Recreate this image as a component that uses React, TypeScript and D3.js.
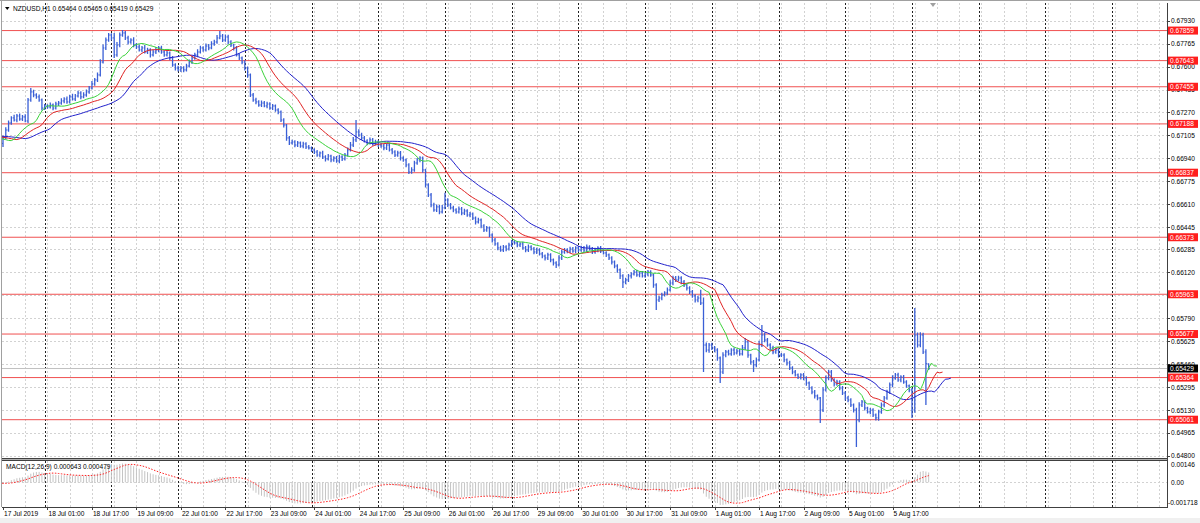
import React from 'react';
import * as d3 from 'd3';

// prices in points (1e-5), hourly bars, 17 Jul 2019 09:00 .. 6 Aug 2019 06:00
// a few bars before the window only warm up the indicators (they are clipped)
const PRE_CLOSE = [67100, 67096, 67090, 67084, 67076, 67070, 67062, 67058, 67052, 67048];
const PRE_HI = [12, 15, 10, 18, 14, 12, 16, 10, 14, 12];
const PRE_LO = [14, 10, 16, 12, 15, 18, 10, 14, 12, 16];

const CLOSE = [
  // 17 Jul
  67087, 67144, 67195, 67231, 67216, 67245, 67223, 67238, 67209, 67360, 67418, 67396, 67382, 67360, 67302, 67317,
  // 18 Jul
  67310, 67324, 67302, 67331, 67338, 67353, 67367, 67346, 67382, 67367, 67389, 67410, 67382, 67396, 67418, 67446, 67475, 67504, 67540, 67633, 67734, 67791, 67827, 67806,
  // 19 Jul
  67684, 67755, 67827, 67842, 67806, 67777, 67791, 67755, 67741, 67720, 67734, 67705, 67720, 67684, 67705, 67720, 67734, 67705, 67684, 67698, 67662, 67612, 67590, 67576,
  // 22 Jul
  67590, 67576, 67604, 67633, 67662, 67684, 67705, 67734, 67720, 67748, 67734, 67763, 67777, 67806, 67820, 67791, 67813, 67777, 67755, 67734, 67684, 67662, 67633, 67590,
  // 23 Jul
  67540, 67396, 67360, 67346, 67324, 67338, 67317, 67331, 67302, 67317, 67288, 67274, 67216, 67180, 67087, 67051, 67058, 67036, 67051, 67029, 67044, 67022, 67015, 67001,
  // 24 Jul
  66986, 66964, 66979, 66950, 66936, 66957, 66929, 66943, 66921, 66950, 66936, 66964, 67001, 67036, 67073, 67130, 67108, 67087, 67065, 67051, 67073, 67044, 67058, 67036,
  // 25 Jul
  67029, 67015, 67036, 67001, 66986, 66964, 66979, 66943, 66929, 66893, 66842, 66857, 66907, 66929, 66943, 66857, 66749, 66677, 66605, 66569, 66591, 66555, 66584, 66641,
  // 26 Jul
  66605, 66584, 66569, 66555, 66576, 66547, 66562, 66533, 66540, 66511, 66483, 66497, 66454, 66425, 66440, 66389, 66353, 66325, 66296, 66281, 66303, 66289, 66317, 66339,
  // 29 Jul
  66332, 66317, 66325, 66296, 66281, 66303, 66289, 66267, 66281, 66253, 66238, 66224, 66246, 66210, 66188, 66174, 66224, 66267, 66281, 66274, 66289, 66274, 66296, 66281,
  // 30 Jul
  66296, 66281, 66303, 66289, 66267, 66281, 66296, 66274, 66260, 66246, 66224, 66195, 66166, 66138, 66095, 66051, 66066, 66095, 66109, 66123, 66102, 66116, 66095, 66109,
  // 31 Jul
  66123, 66102, 66030, 65922, 65936, 65958, 65972, 65994, 66044, 66080, 66066, 66080, 66051, 66030, 66008, 65980, 65951, 65922, 65936, 65900, 65598, 65562, 65598, 65577,
  // 1 Aug
  65562, 65505, 65404, 65526, 65548, 65534, 65562, 65541, 65555, 65534, 65577, 65620, 65526, 65476, 65455, 65491, 65598, 65670, 65634, 65598, 65577, 65548, 65562, 65526,
  // 2 Aug
  65526, 65491, 65469, 65433, 65404, 65383, 65368, 65383, 65361, 65325, 65289, 65260, 65232, 65217, 65131, 65275, 65361, 65404, 65347, 65318, 65332, 65289, 65253, 65217,
  // 5-6 Aug
  65203, 65167, 65131, 65059, 65167, 65189, 65145, 65117, 65131, 65095, 65074, 65117, 65167, 65217, 65260, 65311, 65361, 65383, 65347, 65368, 65332, 65304, 65275, 65131,
  65670, 65598, 65670, 65548, 65464, 65429,
];

// wick above max(open, close) and below min(open, close), points
const WICK_HI = [
  15, 20, 18, 12, 22, 15, 18, 14, 20, 15, 28, 16, 12, 18, 10, 14,
  12, 18, 10, 16, 14, 20, 12, 18, 15, 22, 14, 16, 12, 20, 18, 15, 22, 14, 18, 20, 25, 18, 15, 12,
  36, 22, 18, 21, 14, 16, 12, 20, 15, 18, 14, 22, 16, 12, 18, 20, 14, 16, 12, 18, 10, 14, 12, 16,
  14, 12, 16, 18, 14, 15, 20, 16, 12, 18, 14, 20, 16, 22, 36, 14, 18, 16, 12, 10, 14, 12, 10, 12,
  10, 10, 14, 16, 12, 18, 14, 16, 12, 14, 10, 12, 10, 12, 8, 14, 16, 12, 14, 10, 16, 12, 14, 10,
  12, 14, 10, 16, 12, 14, 10, 12, 14, 16, 12, 14, 18, 22, 20, 86, 20, 16, 14, 12, 18, 14, 16, 12,
  14, 16, 12, 18, 14, 12, 16, 14, 12, 10, 12, 20, 16, 14, 12, 10, 8, 12, 14, 16, 18, 14, 20, 51,
  12, 14, 16, 12, 18, 14, 16, 12, 14, 10, 12, 16, 10, 12, 14, 10, 12, 14, 12, 16, 14, 12, 16, 14,
  12, 14, 12, 16, 14, 18, 12, 14, 16, 12, 14, 10, 16, 12, 10, 12, 20, 18, 14, 12, 16, 14, 12, 14,
  16, 14, 18, 12, 14, 16, 12, 14, 10, 12, 10, 12, 10, 12, 10, 12, 16, 14, 12, 14, 16, 12, 14, 12,
  14, 12, 10, 12, 14, 16, 12, 18, 20, 16, 14, 16, 12, 14, 10, 12, 14, 12, 16, 60, 40, 18, 14, 16,
  14, 12, 10, 20, 14, 16, 12, 18, 14, 16, 22, 29, 12, 10, 14, 18, 30, 72, 16, 14, 12, 16, 14, 12,
  14, 12, 10, 16, 12, 14, 10, 12, 14, 12, 10, 12, 14, 10, 8, 20, 18, 16, 14, 12, 16, 12, 14, 12,
  14, 12, 10, 16, 20, 14, 12, 10, 14, 12, 10, 16, 18, 14, 16, 18, 20, 14, 16, 12, 14, 12, 10, 14,
  194, 18, 20, 16, 20, 1,
];
const WICK_LO = [
  26, 10, 12, 14, 10, 16, 12, 15, 10, 14, 12, 16, 14, 12, 18, 14,
  14, 12, 16, 10, 14, 12, 16, 14, 12, 10, 14, 12, 16, 10, 12, 14, 10, 12, 14, 12, 10, 14, 12, 16,
  22, 14, 16, 12, 14, 18, 12, 16, 14, 12, 16, 10, 14, 18, 12, 14, 16, 12, 14, 12, 16, 14, 18, 12,
  14, 16, 12, 10, 14, 12, 16, 10, 14, 12, 16, 10, 14, 12, 10, 14, 12, 16, 14, 18, 12, 14, 16, 18,
  20, 14, 12, 16, 12, 14, 10, 16, 12, 14, 12, 16, 14, 18, 20, 14, 12, 16, 14, 12, 16, 14, 12, 16,
  14, 12, 16, 14, 18, 12, 16, 14, 12, 16, 14, 12, 10, 12, 14, 16, 12, 14, 10, 16, 12, 14, 12, 14,
  12, 16, 14, 12, 16, 14, 12, 18, 14, 16, 15, 12, 14, 12, 16, 20, 18, 14, 16, 12, 14, 16, 12, 10,
  14, 12, 16, 14, 12, 16, 14, 12, 16, 14, 18, 12, 16, 14, 12, 16, 18, 14, 16, 12, 14, 16, 12, 14,
  12, 16, 14, 12, 16, 14, 12, 16, 14, 12, 16, 18, 14, 16, 18, 22, 12, 14, 12, 16, 14, 12, 16, 14,
  12, 14, 16, 12, 14, 12, 16, 14, 12, 16, 14, 18, 16, 20, 22, 43, 16, 14, 18, 12, 14, 16, 12, 14,
  16, 14, 20, 72, 14, 16, 12, 14, 12, 16, 14, 12, 16, 14, 18, 16, 14, 18, 16, 14, 194, 16, 20, 14,
  16, 20, 79, 14, 16, 12, 14, 16, 12, 14, 12, 14, 20, 18, 51, 16, 12, 14, 16, 12, 14, 16, 12, 18,
  14, 16, 18, 14, 16, 12, 14, 18, 16, 20, 14, 16, 18, 16, 93, 14, 12, 16, 14, 18, 12, 16, 14, 18,
  16, 14, 18, 194, 16, 14, 18, 12, 16, 14, 18, 20, 14, 16, 12, 14, 16, 12, 14, 16, 12, 14, 16, 57,
  20, 18, 16, 14, 297, 10,
];

const TIME_LABELS = [
  '17 Jul 2019', '18 Jul 01:00', '18 Jul 17:00', '19 Jul 09:00', '22 Jul 01:00', '22 Jul 17:00',
  '23 Jul 09:00', '24 Jul 01:00', '24 Jul 17:00', '25 Jul 09:00', '26 Jul 01:00', '26 Jul 17:00',
  '29 Jul 09:00', '30 Jul 01:00', '30 Jul 17:00', '31 Jul 09:00', '1 Aug 01:00', '1 Aug 17:00',
  '2 Aug 09:00', '5 Aug 01:00', '5 Aug 17:00',
];
const PRICE_TICKS = [
  '0.67930', '0.67765', '0.67600', '0.67435', '0.67270', '0.67105', '0.66940', '0.66775', '0.66610', '0.66445',
  '0.66285', '0.66120', '0.65955', '0.65790', '0.65625', '0.65460', '0.65295', '0.65130', '0.64965', '0.64800',
];
const LEVELS = [0.67859, 0.67643, 0.67455, 0.67188, 0.66837, 0.66373, 0.65963, 0.65677, 0.65364, 0.65061];
const MACD_MAX = 0.00146;
const MACD_MIN = -0.001718;
const MACD_LAST = ['0.000643', '0.000479'];

const FONT = '"Liberation Sans", Arial, sans-serif';
const PL = 2, PR = 1167, MT = 3, MB = 458, ST = 461, SB = 507;

function smma(src: number[], n: number) {
  const out: number[] = [];
  src.forEach((v, i) => out.push(i === 0 ? v : (out[i - 1] * (n - 1) + v) / n));
  return out;
}
function ema(src: number[], n: number) {
  const k = 2 / (n + 1);
  const out: number[] = [];
  src.forEach((v, i) => out.push(i === 0 ? v : out[i - 1] + k * (v - out[i - 1])));
  return out;
}

export default function App() {
  const P = PRE_CLOSE.length;
  const closes = [...PRE_CLOSE, ...CLOSE].map(v => v / 1e5);
  const wHi = [...PRE_HI, ...WICK_HI].map(v => v / 1e5);
  const wLo = [...PRE_LO, ...WICK_LO].map(v => v / 1e5);
  const bars = closes.map((c, k) => {
    const o = k === 0 ? c : closes[k - 1];
    return { i: k - P, o, c, h: Math.max(o, c) + wHi[k], l: Math.min(o, c) - wLo[k] };
  });
  const last = bars[bars.length - 1];

  const x = d3.scaleLinear().domain([0, 327]).range([3, 912]);
  const y = d3.scaleLinear().domain([0.648, 0.6793]).range([456, 20.7]);
  const ym = d3.scaleLinear().domain([MACD_MIN, MACD_MAX]).range([SB, 461.5]);

  // Alligator on median price
  const med = bars.map(b => (b.h + b.l) / 2);
  const lineP = d3.line<[number, number]>().x(d => d[0]).y(d => d[1]);
  const gator = [
    { n: 13, shift: 8, color: '#2222cc' },
    { n: 8, shift: 5, color: '#e02424' },
    { n: 5, shift: 3, color: '#3ad23a' },
  ].map(g => {
    const s = smma(med, g.n);
    return { ...g, d: lineP(s.map((v, k) => [x(bars[k].i + g.shift), y(v)] as [number, number])) || '' };
  });

  // MACD 12,26,9
  const e12 = ema(closes, 12);
  const e26 = ema(closes, 26);
  const main = e12.map((v, k) => v - e26[k]);
  const signal = main.map((_, k) => d3.mean(main.slice(Math.max(0, k - 8), k + 1)) as number);

  const vBars = bars.map(b => `M${x(b.i).toFixed(2)},${y(b.h).toFixed(2)}V${y(b.l).toFixed(2)}`).join('');
  const tBars = bars.map(b => {
    const xi = x(b.i);
    return `M${(xi - 1.1).toFixed(2)},${y(b.o).toFixed(2)}H${xi.toFixed(2)}M${xi.toFixed(2)},${y(b.c).toFixed(2)}H${(xi + 1.1).toFixed(2)}`;
  }).join('');
  const hist = bars.map((b, k) => `M${x(b.i).toFixed(2)},${ym(0).toFixed(2)}V${ym(main[k]).toFixed(2)}`).join('');
  const sigD = lineP(bars.map((b, k) => [x(b.i), ym(signal[k])] as [number, number])) || '';

  const lightV = d3.range(8, 420, 8).map(i => Math.round(x(i)) + 0.5).filter(v => v < PR);
  const darkV = d3.range(15, 420, 24).map(i => Math.round(x(i)) + 0.5).filter(v => v < PR);
  const gridH = PRICE_TICKS.map(t => Math.round(y(+t)) + 0.5);

  const axisText = { fontFamily: FONT, fontSize: 6.6, fill: '#000' } as const;
  const fmt = (v: number) => v.toFixed(5);

  return (
    <svg width={1200} height={523} style={{ position: 'fixed', left: 0, top: 0, background: '#fff' }}>
      <defs>
        <clipPath id="cm"><rect x={PL} y={MT} width={PR - PL} height={MB - MT} /></clipPath>
        <clipPath id="cs"><rect x={PL} y={ST} width={PR - PL} height={SB - ST} /></clipPath>
      </defs>
      <rect x={0} y={0} width={1200} height={523} fill="#fff" />
      <rect x={0} y={518} width={1200} height={5} fill="#f0f0f0" />
      <line x1={0} x2={1200} y1={0.5} y2={0.5} stroke="#a0a0a0" />
      <line x1={1.5} x2={1.5} y1={0} y2={SB} stroke="#a0a0a0" />

      {/* grid */}
      <g stroke="#d2d2d2" strokeWidth={1} strokeDasharray="2 2">
        {lightV.map(v => <line key={'m' + v} x1={v} x2={v} y1={MT} y2={MB} />)}
        {lightV.map(v => <line key={'s' + v} x1={v} x2={v} y1={ST} y2={SB} />)}
        {gridH.map(v => <line key={'h' + v} x1={PL} x2={PR} y1={v} y2={v} />)}
        <line x1={PL} x2={PR} y1={Math.round(ym(0)) + 0.5} y2={Math.round(ym(0)) + 0.5} />
      </g>
      <g stroke="#222" strokeWidth={1} strokeDasharray="2 2">
        {darkV.map(v => <line key={'dm' + v} x1={v} x2={v} y1={MT} y2={MB} />)}
        {darkV.map(v => <line key={'ds' + v} x1={v} x2={v} y1={ST} y2={SB} />)}
      </g>

      {/* levels and current price */}
      <g clipPath="url(#cm)">
        {LEVELS.map(l => <line key={l} x1={PL} x2={PR} y1={y(l)} y2={y(l)} stroke="#f05050" strokeWidth={1} />)}
        <line x1={PL} x2={PR} y1={y(last.c)} y2={y(last.c)} stroke="#c0c0c0" strokeWidth={1} />
        <path d={vBars} stroke="#3a5fd6" strokeWidth={1.3} fill="none" />
        <path d={tBars} stroke="#3a5fd6" strokeWidth={1} fill="none" />
        {gator.map(g => <path key={g.n} d={g.d} stroke={g.color} strokeWidth={1} fill="none" />)}
      </g>

      {/* MACD */}
      <g clipPath="url(#cs)">
        <path d={hist} stroke="#c4c4c4" strokeWidth={1} fill="none" />
        <path d={sigD} stroke="#ff2020" strokeWidth={1} strokeDasharray="1.5 1.5" fill="none" />
      </g>

      {/* frames */}
      <rect x={PL} y={MB} width={PR - PL} height={3} fill="#b0b0b0" />
      <line x1={PL} x2={PR} y1={MB + 0.5} y2={MB + 0.5} stroke="#404040" />
      <line x1={PL} x2={PR} y1={ST - 0.5} y2={ST - 0.5} stroke="#404040" />
      <line x1={PR + 0.5} x2={PR + 0.5} y1={MT} y2={SB} stroke="#404040" />
      <line x1={PL} x2={PR + 1} y1={SB + 0.5} y2={SB + 0.5} stroke="#404040" />
      <path d="M930,3L936,3L933,7Z" fill="#a0a0a0" />

      {/* header texts */}
      <path d="M5,7L9.5,7L7.25,10Z" fill="#000" />
      <text x={13} y={11} {...axisText}>{`NZDUSD,H1  ${fmt(last.o)} ${fmt(last.h)} ${fmt(last.l)} ${fmt(last.c)}`}</text>
      <text x={6} y={469} {...axisText}>{`MACD(12,26,9) ${MACD_LAST[0]} ${MACD_LAST[1]}`}</text>

      {/* price axis */}
      {PRICE_TICKS.map(t => (
        <g key={t}>
          <line x1={PR} x2={PR + 3} y1={Math.round(y(+t)) + 0.5} y2={Math.round(y(+t)) + 0.5} stroke="#404040" />
          <text x={1171} y={y(+t) + 2.4} {...axisText}>{t}</text>
        </g>
      ))}
      {LEVELS.map(l => (
        <g key={'lb' + l}>
          <rect x={1168} y={y(l) - 4} width={30} height={8} fill="#ff1e1e" />
          <text x={1170} y={y(l) + 2.4} {...axisText} fill="#fff">{fmt(l)}</text>
        </g>
      ))}
      <rect x={1168} y={y(last.c) - 4} width={30} height={8} fill="#000" />
      <text x={1170} y={y(last.c) + 2.4} {...axisText} fill="#fff">{fmt(last.c)}</text>

      {/* MACD axis */}
      <text x={1171} y={466.5} {...axisText}>{MACD_MAX.toFixed(5)}</text>
      <text x={1171} y={ym(0) + 2.4} {...axisText}>0.00</text>
      <text x={1168} y={505} {...axisText}>{MACD_MIN.toFixed(6)}</text>

      {/* time axis */}
      {TIME_LABELS.map((t, j) => (
        <g key={t}>
          <line x1={Math.round(x(16 * j)) + 0.5} x2={Math.round(x(16 * j)) + 0.5} y1={SB} y2={SB + 3} stroke="#404040" />
          <text x={x(16 * j) + 1} y={516} {...axisText}>{t}</text>
        </g>
      ))}
    </svg>
  );
}
